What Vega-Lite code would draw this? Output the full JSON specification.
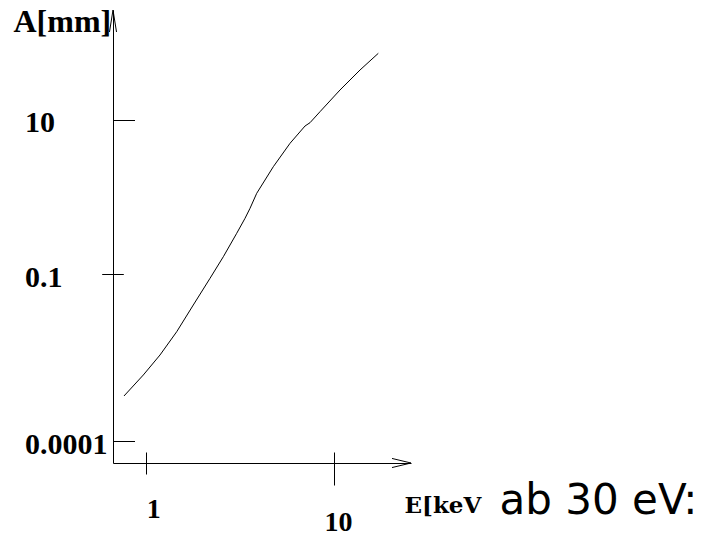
{
  "$schema": "https://vega.github.io/schema/vega-lite/v6.json",
  "width": 298,
  "height": 453,
  "autosize": {"type": "none"},
  "padding": {"left": 113, "top": 10, "right": 304, "bottom": 72},
  "background": "white",
  "config": {
    "view": {"stroke": null},
    "axis": {
      "grid": false,
      "domainColor": "black",
      "tickColor": "black",
      "labelColor": "black",
      "titleColor": "black",
      "labelFont": "Liberation Serif",
      "labelFontWeight": "bold",
      "labelFlush": false,
      "labelOverlap": false,
      "labelBound": false,
      "domainWidth": 1,
      "tickWidth": 1
    }
  },
  "datasets": {
    "curve": [
      {"E": 0.7668, "A": 0.0006457},
      {"E": 0.9711, "A": 0.001541},
      {"E": 1.191, "A": 0.00353},
      {"E": 1.4611, "A": 0.00927},
      {"E": 1.7894, "A": 0.02802},
      {"E": 2.1956, "A": 0.08472},
      {"E": 2.5838, "A": 0.1689},
      {"E": 3.043, "A": 0.3392},
      {"E": 3.3684, "A": 0.5302},
      {"E": 3.581, "A": 0.7142},
      {"E": 3.8862, "A": 1.1165},
      {"E": 4.7615, "A": 2.466},
      {"E": 5.8399, "A": 4.951},
      {"E": 7.0155, "A": 8.289},
      {"E": 7.457, "A": 9.146},
      {"E": 8.4265, "A": 12.69},
      {"E": 10.761, "A": 24.226},
      {"E": 13.745, "A": 43.96},
      {"E": 17.191, "A": 72.26}
    ],
    "xend": [{"E": 25.64, "A": 0.0000402}],
    "yend": [{"E": 0.6703, "A": 262.6}]
  },
  "resolve": {"axis": {"x": "independent", "y": "independent"}},
  "layer": [
    {
      "data": {"name": "curve"},
      "mark": {"type": "line", "stroke": "black", "strokeWidth": 1},
      "encoding": {
        "x": {
          "field": "E",
          "type": "quantitative",
          "scale": {"type": "log", "domain": [0.6703, 25.64], "nice": false},
          "axis": {
            "orient": "bottom",
            "values": [1, 10],
            "format": "~g",
            "ticks": false,
            "domain": true,
            "labelFontSize": 28,
            "labelAlign": "center",
            "labelBaseline": "alphabetic",
            "labelPadding": {"condition": {"test": "datum.value == 10", "value": 67}, "value": 54.3},
            "labelOffset": {"condition": {"test": "datum.value == 10", "value": 4}, "value": 7.6},
            "title": "E[keV",
            "titleFont": "DejaVu Serif",
            "titleFontWeight": "bold",
            "titleFontSize": 23,
            "titleAlign": "left",
            "titleBaseline": "alphabetic",
            "titleX": 291,
            "titleY": 49
          }
        },
        "y": {
          "field": "A",
          "type": "quantitative",
          "scale": {
            "type": "log",
            "domain": [0.0000402, 0.0001, 0.1, 10, 262.6],
            "range": [453, 431, 264.3, 109.7, 0],
            "nice": false
          },
          "axis": {
            "orient": "left",
            "values": [0.0001, 0.1, 10],
            "format": "~g",
            "ticks": false,
            "domain": true,
            "labelFontSize": 30,
            "labelAlign": "left",
            "labelBaseline": "alphabetic",
            "labelPadding": 88.5,
            "labelOffset": 12,
            "title": "A[mm]",
            "titleFont": "Liberation Serif",
            "titleFontWeight": "bold",
            "titleFontSize": 32,
            "titleAngle": 0,
            "titleAlign": "left",
            "titleBaseline": "alphabetic",
            "titleX": -100,
            "titleY": 21.7
          }
        }
      }
    },
    {
      "data": {"name": "xend"},
      "mark": {"type": "point", "shape": "M-1,-0.24L0,0L-1,0.24", "size": 1444, "filled": false, "stroke": "black", "strokeWidth": 1, "opacity": 1},
      "encoding": {
        "x": {
          "field": "E",
          "type": "quantitative",
          "axis": {
            "orient": "bottom",
            "offset": -11,
            "values": [1, 10],
            "domain": false,
            "labels": false,
            "tickSize": {"condition": {"test": "datum.value == 10", "value": 33}, "value": 22},
            "title": null
          }
        },
        "y": {
          "field": "A",
          "type": "quantitative",
          "axis": {
            "orient": "left",
            "offset": -21.5,
            "values": [0.0001, 10],
            "domain": false,
            "labels": false,
            "tickSize": 21.5,
            "title": null
          }
        }
      }
    },
    {
      "data": {"name": "yend"},
      "mark": {"type": "point", "shape": "M-0.16,1L0,0L0.16,1", "size": 1936, "filled": false, "stroke": "black", "strokeWidth": 1, "opacity": 1},
      "encoding": {
        "x": {
          "field": "E",
          "type": "quantitative",
          "axis": {
            "orient": "bottom",
            "domain": false,
            "ticks": false,
            "labels": false,
            "title": "ab 30 eV:",
            "titleFont": "DejaVu Sans",
            "titleFontWeight": "normal",
            "titleFontSize": 42,
            "titleAlign": "left",
            "titleBaseline": "alphabetic",
            "titleX": 386,
            "titleY": 50.3
          }
        },
        "y": {
          "field": "A",
          "type": "quantitative",
          "axis": {
            "orient": "left",
            "offset": -10.3,
            "values": [0.1],
            "domain": false,
            "labels": false,
            "tickSize": 21.6,
            "title": null
          }
        }
      }
    }
  ]
}
